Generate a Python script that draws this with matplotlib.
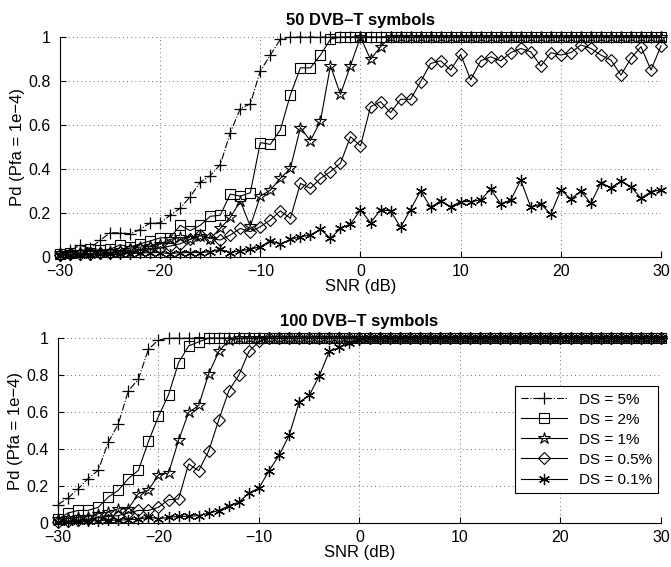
import numpy as np
import matplotlib
matplotlib.use('agg')
import matplotlib.pyplot as plt

plt.rcParams['font.family'] = ['Liberation Sans', 'DejaVu Sans']

snr = list(range(-30, 31))

# 50 DVB-T symbols
top_ds5 = [0.02, 0.03, 0.053, 0.04, 0.076, 0.11, 0.11, 0.106, 0.125, 0.155,
           0.155, 0.19, 0.222, 0.274, 0.34, 0.37, 0.42, 0.565, 0.675, 0.696,
           0.846, 0.918, 0.99] + [1.0] * 38
top_ds2 = [0.015, 0.02, 0.03, 0.035, 0.03, 0.035, 0.056, 0.045, 0.06, 0.073,
           0.087, 0.088, 0.144, 0.12, 0.144, 0.185, 0.19, 0.286, 0.277, 0.292,
           0.52, 0.512, 0.578, 0.737, 0.86, 0.86, 0.918, 0.99, 1.0] + [1.0] * 32
top_ds1 = [0.02, 0.02, 0.022, 0.025, 0.025, 0.028, 0.03, 0.04, 0.045, 0.05,
           0.06, 0.08, 0.09, 0.08, 0.097, 0.084, 0.13, 0.18, 0.254, 0.14,
           0.277, 0.304, 0.357, 0.403, 0.588, 0.529, 0.617, 0.87, 0.739, 0.87,
           1.0, 0.898, 0.956] + [1.0] * 28
top_ds05 = [0.01, 0.012, 0.015, 0.015, 0.018, 0.02, 0.025, 0.03, 0.035, 0.04,
            0.04, 0.05, 0.06, 0.08, 0.1, 0.085, 0.077, 0.1, 0.13, 0.115,
            0.138, 0.168, 0.21, 0.176, 0.335, 0.312, 0.357, 0.388, 0.426, 0.547,
            0.505, 0.683, 0.706, 0.656, 0.717, 0.717, 0.797, 0.88, 0.892, 0.85,
            0.921, 0.805, 0.892, 0.91, 0.892, 0.929, 0.948, 0.933, 0.868, 0.929,
            0.918, 0.929, 0.964, 0.948, 0.918, 0.895, 0.827, 0.903, 0.956, 0.85,
            0.96]
top_ds01 = [0.005, 0.008, 0.01, 0.01, 0.012, 0.012, 0.015, 0.015, 0.018, 0.02,
            0.02, 0.015, 0.02, 0.02, 0.02, 0.024, 0.035, 0.02, 0.029, 0.035,
            0.047, 0.074, 0.059, 0.08, 0.092, 0.1, 0.126, 0.085, 0.13, 0.15,
            0.214, 0.156, 0.214, 0.21, 0.135, 0.216, 0.301, 0.226, 0.255, 0.229,
            0.252, 0.252, 0.259, 0.309, 0.241, 0.259, 0.35, 0.226, 0.241, 0.195,
            0.305, 0.264, 0.3, 0.244, 0.338, 0.315, 0.345, 0.32, 0.267, 0.297,
            0.305]

# 100 DVB-T symbols
bot_ds5 = [0.1, 0.135, 0.184, 0.24, 0.285, 0.436, 0.535, 0.715, 0.778, 0.94,
           0.99] + [1.0] * 50
bot_ds2 = [0.02, 0.054, 0.068, 0.068, 0.085, 0.14, 0.177, 0.24, 0.285, 0.441,
           0.577, 0.694, 0.868, 0.958, 0.98, 1.0] + [1.0] * 45
bot_ds1 = [0.02, 0.025, 0.03, 0.035, 0.05, 0.06, 0.077, 0.077, 0.159, 0.177,
           0.261, 0.27, 0.447, 0.598, 0.636, 0.807, 0.928, 0.99] + [1.0] * 43
bot_ds05 = [0.005, 0.01, 0.015, 0.02, 0.03, 0.035, 0.04, 0.054, 0.068, 0.068,
            0.085, 0.126, 0.13, 0.319, 0.283, 0.39, 0.558, 0.715, 0.8, 0.928,
            0.982] + [1.0] * 40
bot_ds01 = [0.005, 0.008, 0.01, 0.012, 0.012, 0.015, 0.015, 0.018, 0.02, 0.032,
            0.023, 0.03, 0.036, 0.036, 0.04, 0.054, 0.067, 0.094, 0.113, 0.162,
            0.189, 0.283, 0.366, 0.474, 0.654, 0.69, 0.796, 0.928, 0.95, 0.975,
            0.99] + [1.0] * 30

labels = ['DS = 5%', 'DS = 2%', 'DS = 1%', 'DS = 0.5%', 'DS = 0.1%']
styles = [dict(marker='+', linestyle='-.', ms=9, mew=0.9),
          dict(marker='s', linestyle='-', ms=6.5, mfc='none', mew=0.8),
          dict(marker='*', linestyle='-', ms=9, mfc='none', mew=0.8),
          dict(marker='D', linestyle='-', ms=6, mfc='none', mew=0.8),
          dict(marker=(6, 2, 0), linestyle='-', ms=8, mew=0.9)]

fig = plt.figure(figsize=(6.71, 5.67), dpi=100)
ax1 = fig.add_axes([0.0894, 0.5467, 0.8957, 0.388])
ax2 = fig.add_axes([0.0864, 0.0776, 0.8987, 0.326])

panels = [(ax1, '50 DVB–T symbols', [top_ds5, top_ds2, top_ds1, top_ds05, top_ds01]),
          (ax2, '100 DVB–T symbols', [bot_ds5, bot_ds2, bot_ds1, bot_ds05, bot_ds01])]

for ax, title, series in panels:
    for y, lab, st in zip(series, labels, styles):
        ax.plot(snr, y, color='black', lw=0.8, label=lab, clip_on=False, **st)
    ax.set_xlim(-30, 30)
    ax.set_ylim(0, 1)
    ax.set_xticks([-30, -20, -10, 0, 10, 20, 30])
    ax.set_yticks([0, 0.2, 0.4, 0.6, 0.8, 1])
    ax.set_yticklabels(['0', '0.2', '0.4', '0.6', '0.8', '1'])
    ax.grid(True, color='0.25', linestyle=(0, (1, 4)), linewidth=0.6)
    ax.spines['top'].set_visible(False)
    ax.spines['right'].set_visible(False)
    ax.tick_params(direction='in', labelsize=11.5, length=4)
    ax.tick_params(axis='x', pad=5)
    ax.tick_params(axis='y', pad=7)
    ax.set_title(title, fontsize=12, fontweight='bold', pad=9)
    ax.set_xlabel('SNR (dB)', fontsize=12, labelpad=0)
    ax.set_ylabel('Pd (Pfa = 1e−4)', fontsize=12, labelpad=2)

leg = ax2.legend(loc='lower right', bbox_to_anchor=(0.995, 0.162), fontsize=11,
                 fancybox=False, edgecolor='black', framealpha=1,
                 handlelength=3, borderaxespad=0, labelspacing=0.4)
leg.get_frame().set_linewidth(0.8)

fig.savefig('out.png', dpi=100)
